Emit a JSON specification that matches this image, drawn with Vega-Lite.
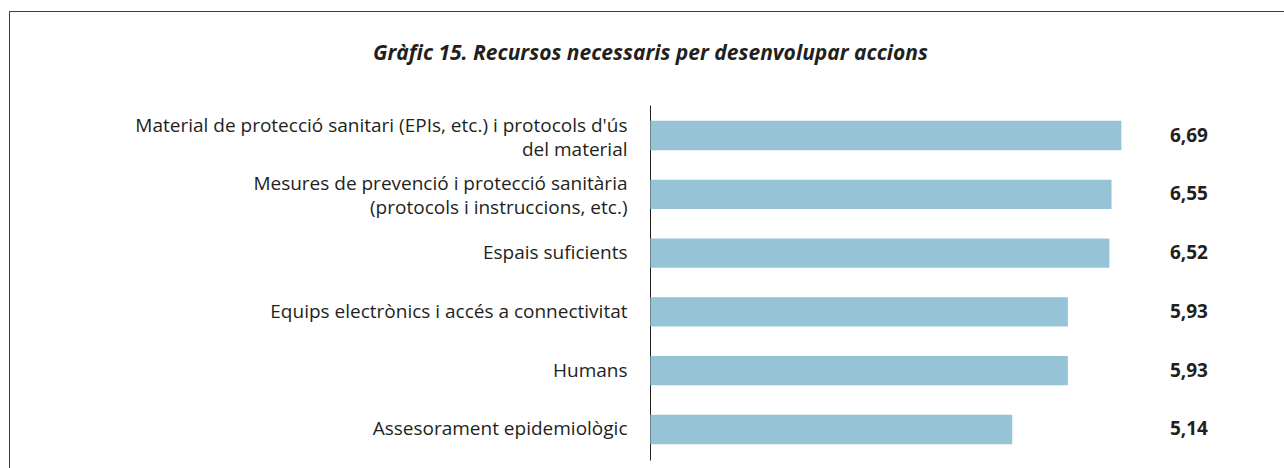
{
  "$schema": "https://vega.github.io/schema/vega-lite/v6.json",
  "width": 1275,
  "height": 457,
  "autosize": {"type": "none"},
  "padding": {"left": 9, "top": 11, "right": 0, "bottom": 0},
  "background": "white",
  "config": {
    "locale": {"number": {"decimal": ",", "thousands": ".", "grouping": [3], "currency": ["", " €"]}},
    "view": {"stroke": "#3a3a3a", "strokeWidth": 1, "strokeDash": [1275, 1732, 457]},
    "font": "Open Sans"
  },
  "title": {
    "text": "Gràfic 15. Recursos necessaris per desenvolupar accions",
    "font": "Open Sans",
    "fontSize": 21,
    "fontWeight": "bold",
    "fontStyle": "italic",
    "color": "#231f20",
    "anchor": "middle",
    "offset": -70,
    "baseline": "alphabetic",
    "dx": 4
  },
  "data": {
    "values": [
      {"label": "Material de protecció sanitari (EPIs, etc.) i protocols d'ús|del material", "value": 6.69},
      {"label": "Mesures de prevenció i protecció sanitària|(protocols i instruccions, etc.)", "value": 6.55},
      {"label": "Espais suficients", "value": 6.52},
      {"label": "Equips electrònics i accés a connectivitat", "value": 5.93},
      {"label": "Humans", "value": 5.93},
      {"label": "Assesorament epidemiològic", "value": 5.14}
    ]
  },
  "encoding": {
    "y": {
      "field": "label",
      "type": "nominal",
      "sort": null,
      "scale": {"range": [94, 449], "paddingInner": 0.5, "paddingOuter": 0.27},
      "axis": {
        "title": null,
        "orient": "left",
        "offset": -641,
        "domainColor": "#231f20",
        "domainWidth": 1,
        "ticks": false,
        "grid": false,
        "labelPadding": 23,
        "labelFontSize": 19,
        "labelColor": "#231f20",
        "labelFont": "Open Sans",
        "labelLimit": 700,
        "labelLineHeight": 24,
        "labelOffset": {"condition": {"test": "indexof(datum.value, '|') >= 0", "value": -10}, "value": 0},
        "labelExpr": "split(datum.value, '|')"
      }
    }
  },
  "layer": [
    {
      "mark": {"type": "bar", "color": "#96c3d6"},
      "encoding": {
        "x": {"field": "value", "type": "quantitative", "scale": {"domain": [-9.11, 9.0], "nice": false, "zero": false}, "axis": null}
      }
    },
    {
      "mark": {"type": "text", "align": "center", "baseline": "middle", "fontWeight": "bold", "fontSize": 19, "color": "#231f20", "font": "Open Sans"},
      "encoding": {
        "x": {"datum": 7.65, "type": "quantitative"},
        "text": {"field": "value", "type": "quantitative", "format": ".2f"}
      }
    }
  ]
}
